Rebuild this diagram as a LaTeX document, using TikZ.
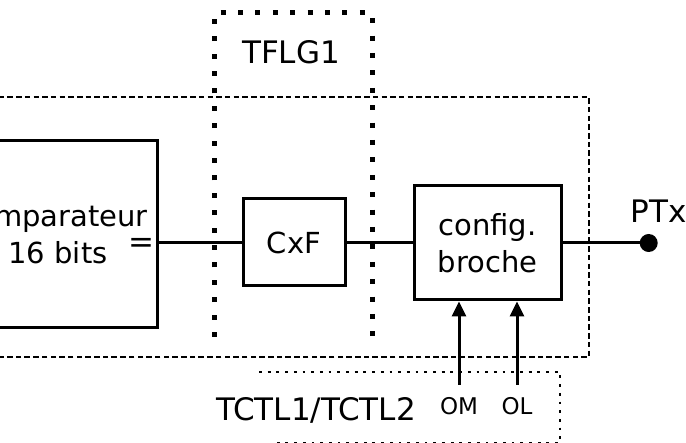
\documentclass[tikz,border=0pt]{standalone}
\usepackage{fontspec}
\setmainfont{DejaVu Sans}
\usetikzlibrary{
    arrows.meta,
    positioning
}
\tikzset{
  blk/.style  = {draw, line width=3pt, align=center, inner sep=0pt,
                 font=\fontsize{29}{37}\selectfont},
  lbl/.style  = {inner sep=0pt, font=\fontsize{31}{37}\selectfont},
  sig/.style  = {inner sep=0pt, font=\fontsize{23}{28}\selectfont},
  wire/.style = {line width=3pt},
  arr/.style  = {line width=3pt, -{Triangle[length=15pt,width=14pt]}},
  grp/.style  = {line width=2.2pt, dash pattern=on 5.5pt off 3.2pt},
  flg/.style  = {line width=5pt, dash pattern=on 5pt off 12.4pt},
  ctl/.style  = {line width=2.8pt, dash pattern=on 2.8pt off 5.9pt}
}

\begin{document}
\begin{tikzpicture}[x=1pt, y=-1pt]
\useasboundingbox (0,0) rectangle (686,443);
% blocks
\node[blk, minimum width=210pt, minimum height=187pt] (comp) at (52,234.5)
    {Comparateur\\\hspace*{12pt}16 bits};
\node[blk, minimum width=102pt, minimum height=87pt] (cxf) at (294,242.5) {CxF};
\node[blk, minimum width=147pt, minimum height=114pt] (cfg) at (487.5,243)
    {config.\\broche};
\node[circle, fill, minimum size=18pt, inner sep=0pt, right=77pt of cfg] (dot) {};
\node[lbl, above=11pt of dot, xshift=10pt] (ptx) {PTx};
\node[lbl, anchor=base east, xshift=-4pt, yshift=-9.6pt] (eq)
    at (cxf.west -| comp.east) {=};
% group frames
\draw[grp] (-10,97) -- (589,97) -- (589,357) -- (-10,357);
\draw[flg] (214,337) -- (214,13) -- (372,13) -- (372,341);
\draw[ctl] (259,372) -- (560,372) -- (560,443) -- (276,443);
\node[lbl] (tflg) at (291,52) {TFLG1};
\node[lbl, anchor=base] (tctl) at (316,421) {TCTL1/TCTL2};
% control inputs
\coordinate (omin) at (459,385);
\coordinate (olin) at (517,385);
\node[sig, below=12pt of omin] (om) {OM};
\node[sig, below=12pt of olin] (ol) {OL};
% wires
\draw[wire] (cxf.west) -- (cxf.west -| comp.east);
\draw[wire] (cxf.east) -- (cxf.east -| cfg.west);
\draw[wire] (cfg.east) -- (dot);
\draw[arr] (omin) -- (cfg.south -| omin);
\draw[arr] (olin) -- (cfg.south -| olin);
\end{tikzpicture}
\end{document}
